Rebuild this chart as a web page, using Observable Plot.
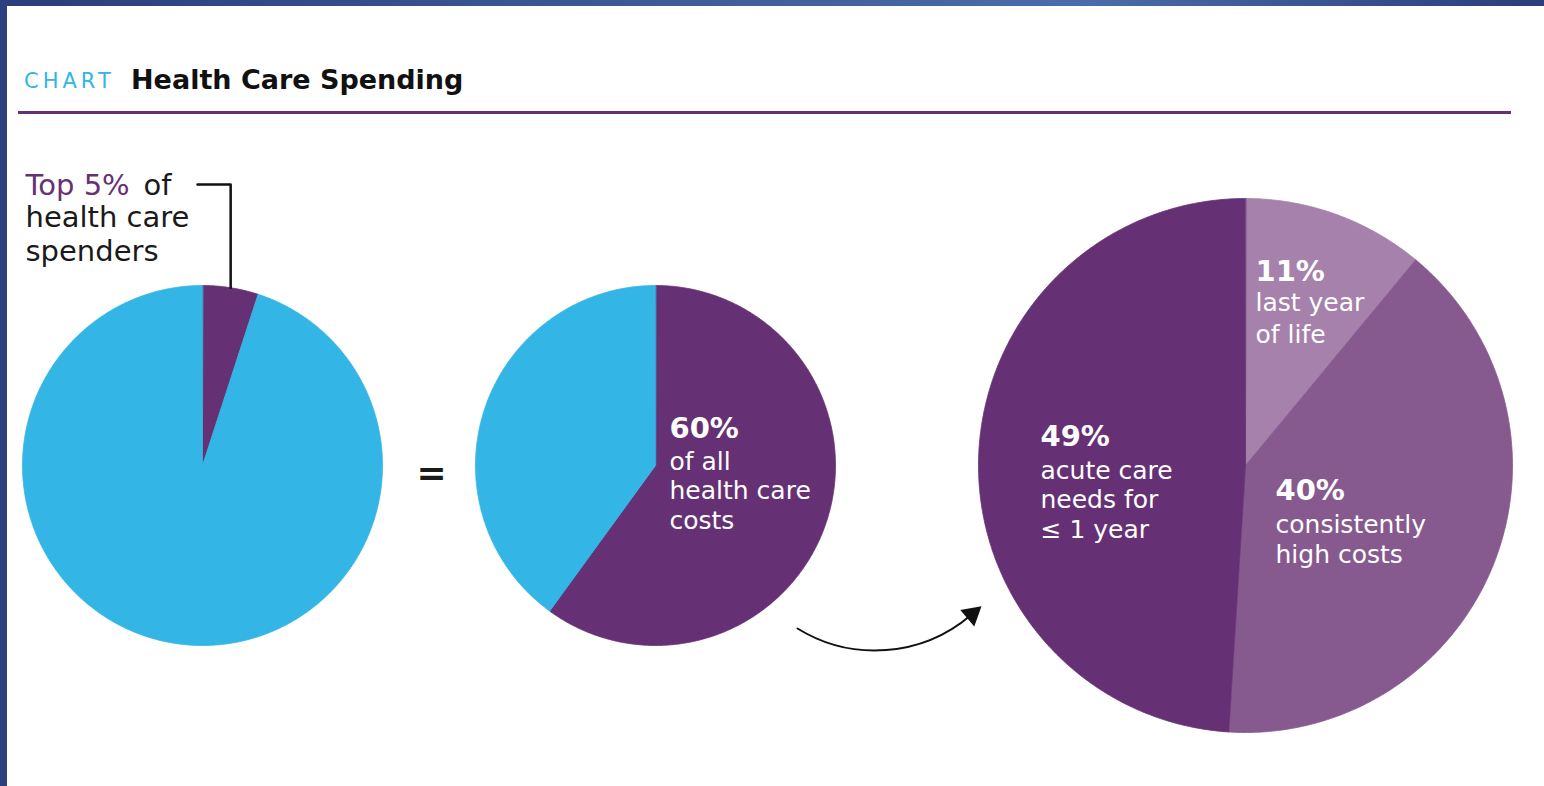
<!DOCTYPE html>
<html><head><meta charset="utf-8">
<script src="https://cdn.jsdelivr.net/npm/d3@7"></script>
<script src="https://cdn.jsdelivr.net/npm/@observablehq/plot@0.6"></script>
<style>
html,body{margin:0;padding:0;background:#fff;width:1544px;height:786px;overflow:hidden;font-family:"DejaVu Sans",sans-serif;}
#topbar{position:absolute;left:0;top:0;width:1544px;height:6px;background:linear-gradient(90deg,#2b3d7b 0%,#3d5898 40%,#4b6cac 70%,#2b3d7b 100%);}
#leftbar{position:absolute;left:0;top:0;width:7px;height:786px;background:#2c3f7e;}
.kicker{position:absolute;left:24px;top:71px;line-height:1;color:#33b5e5;font-size:21px;letter-spacing:4px;white-space:nowrap;}
.main{position:absolute;left:131px;top:66px;line-height:1;color:#111;font-size:27px;font-weight:700;white-space:nowrap;}
#rule{position:absolute;left:18px;top:111px;width:1493px;height:3px;background:#663174;}
#chart{position:absolute;left:0;top:120px;}
</style>
</head>
<body>
<div id="topbar"></div>
<div id="leftbar"></div>
<div class="kicker">CHART</div><div class="main">Health Care Spending</div>
<div id="rule"></div>
<div id="chart"></div>
<script>
// ---- data ----
const spenderGroups = ["Top 5% of health care spenders", "Other 95% of spenders"];
const spenderShare = [5, 95];
const costGroups = ["Top 5% of spenders", "Other 95% of spenders"];
const costShare = [60, 40];
const breakdownGroups = ["last year\nof life", "consistently\nhigh costs", "acute care\nneeds for\n≤ 1 year"];
const breakdownShare = [11, 40, 49];

// ---- styles ----
const PURPLE = "#663174", CYAN = "#33b5e5", MID = "#875a8f", LIGHT = "#a681ab";
const spenderColors = [PURPLE, CYAN];
const costColors = [PURPLE, CYAN];
const breakdownColors = [LIGHT, MID, PURPLE];
const FONT = "'DejaVu Sans', sans-serif";
const INK = "#1a1a1a";

const W = 1544, TOP = 120, H = 786 - TOP;
const pies = [
  {id: "a", values: spenderShare, colors: spenderColors, cx: 202, cy: 465, r: 180},
  {id: "b", values: costShare, colors: costColors, cx: 655, cy: 465, r: 180},
  {id: "c", values: breakdownShare, colors: breakdownColors, cx: 1245, cy: 465, r: 267}
];

function slicePoints(p) {
  const total = d3.sum(p.values);
  let acc = 0; const pts = [];
  p.values.forEach((v, i) => {
    const a0 = acc / total * 2 * Math.PI; acc += v; const a1 = acc / total * 2 * Math.PI;
    const id = p.id + i;
    pts.push({x: p.cx, y: p.cy, id, fill: p.colors[i]});
    const n = Math.max(2, Math.ceil((a1 - a0) / (Math.PI / 360)));
    for (let k = 0; k <= n; k++) {
      const a = a0 + (a1 - a0) * k / n;
      pts.push({x: p.cx + p.r * Math.sin(a), y: p.cy - p.r * Math.cos(a), id, fill: p.colors[i]});
    }
  });
  return pts;
}
const slices = pies.flatMap(slicePoints);

function midPoint(p, i) {
  const total = d3.sum(p.values);
  const start = d3.sum(p.values.slice(0, i));
  const a = (start + p.values[i] / 2) / total * 2 * Math.PI;
  return {x: p.cx + p.r * Math.sin(a), y: p.cy - p.r * Math.cos(a)};
}
const tip = midPoint(pies[0], 0);
const leader = [{x: 197, y: 184}, {x: tip.x, y: 184}, {x: tip.x, y: tip.y}];

// arrow from pie b to pie c
const arrow = {x1: 797, y1: 628, x2: 970, y2: 615, bend: -36};
const chordAngle = Math.atan2(arrow.y2 - arrow.y1, arrow.x2 - arrow.x1);
const endAngle = chordAngle + arrow.bend * Math.PI / 180; // tangent direction at end (screen coords)
const head = [{x: arrow.x2 + 2 * Math.cos(endAngle), y: arrow.y2 + 2 * Math.sin(endAngle), rot: endAngle * 180 / Math.PI + 90}];

const pct = v => `${v}%`;
const white = {fill: "white", fontFamily: FONT, textAnchor: "start", lineAnchor: "bottom"};
const ink = {fill: INK, fontFamily: FONT, textAnchor: "start", lineAnchor: "bottom", fontSize: 29};

const chart = Plot.plot({
  width: W, height: H,
  margin: 0,
  x: {domain: [0, W], range: [0, W], axis: null},
  y: {domain: [TOP, 786], range: [0, H], axis: null},
  color: {type: "identity"},
  style: {background: "transparent", overflow: "visible"},
  marks: [
    Plot.line(slices, {x: "x", y: "y", z: "id", fill: "fill", stroke: "fill", strokeWidth: 0.8, curve: "linear-closed"}),
    Plot.line(leader, {x: "x", y: "y", stroke: "#111", strokeWidth: 2.5}),
    // left label
    Plot.text([spenderShare[0]], {x: 25, y: 194, text: d => `Top ${pct(d)}`, ...ink, fill: PURPLE}),
    Plot.text(["of"], {x: 143, y: 194, text: d => d, ...ink}),
    Plot.text(["health care"], {x: 25, y: 226, text: d => d, ...ink}),
    Plot.text(["spenders"], {x: 25, y: 260, text: d => d, ...ink}),
    // equals
    Plot.text(["="], {x: 431, y: 473, text: d => d, fill: INK, fontFamily: FONT, fontSize: 36, fontWeight: 700, textAnchor: "middle", lineAnchor: "middle"}),
    // pie 2 labels
    Plot.text([costShare[0]], {x: 669, y: 437, text: pct, fontSize: 29, fontWeight: 700, ...white}),
    Plot.text(["of all\nhealth care\ncosts"], {x: 669, y: 528, text: d => d, fontSize: 25, lineHeight: 1.18, ...white}),
    // pie 3 labels
    Plot.text([breakdownShare[0]], {x: 1255, y: 280, text: pct, fontSize: 29, fontWeight: 700, ...white}),
    Plot.text([breakdownGroups[0]], {x: 1255, y: 342, text: d => d, fontSize: 25, lineHeight: 1.25, ...white}),
    Plot.text([breakdownShare[1]], {x: 1275, y: 499, text: pct, fontSize: 29, fontWeight: 700, ...white}),
    Plot.text([breakdownGroups[1]], {x: 1275, y: 562, text: d => d, fontSize: 25, lineHeight: 1.2, ...white}),
    Plot.text([breakdownShare[2]], {x: 1040, y: 445, text: pct, fontSize: 29, fontWeight: 700, ...white}),
    Plot.text([breakdownGroups[2]], {x: 1040, y: 537, text: d => d, fontSize: 25, lineHeight: 1.18, ...white}),
    // arrow between pies
    Plot.arrow([arrow], {x1: "x1", y1: "y1", x2: "x2", y2: "y2", bend: arrow.bend, stroke: "#111", strokeWidth: 2, headLength: 0}),
    Plot.dot(head, {x: "x", y: "y", rotate: "rot", symbol: "triangle", r: 8, fill: "#111", stroke: null})
  ]
});
document.getElementById("chart").appendChild(chart);
</script>
</body></html>
